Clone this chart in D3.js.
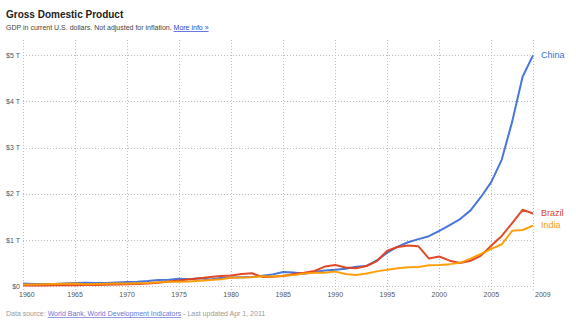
<!DOCTYPE html>
<html>
<head>
<meta charset="utf-8">
<script src="https://cdn.jsdelivr.net/npm/d3@7"></script>
<style>
  html, body { margin: 0; padding: 0; background: #fff; }
  svg { display: block; font-family: "Liberation Sans", Arial, sans-serif; }
</style>
</head>
<body>
<svg id="chart" width="576" height="324"></svg>
<script>
// Years on the x axis
const years = d3.range(1960, 2010);

// GDP in current US$, billions
const chinaGdp = [59.7,50.1,47.2,50.7,59.7,70.4,76.7,72.9,70.8,79.7,
  92.6,99.8,113.7,138.5,144.2,163.4,153.9,174.9,149.5,178.3,
  189.4,194.1,203.2,228.5,257.4,307.0,297.6,270.4,309.5,344.0,
  356.9,379.5,422.7,440.5,559.2,728.0,856.1,952.7,1019.5,1083.3,
  1198.5,1324.8,1453.8,1641.0,1931.6,2256.9,2740.0,3560.0,4530.0,4991.3];
const brazilGdp = [15.2,15.2,19.9,23.0,21.2,21.8,27.1,30.6,33.9,37.5,
  42.3,49.2,58.5,79.3,105.1,123.7,152.7,176.2,200.8,224.4,
  235.0,263.6,281.7,203.3,209.0,222.9,268.1,294.1,330.4,425.6,
  461.9,407.7,390.6,438.3,546.2,769.3,850.4,883.2,863.7,599.4,
  644.7,553.8,504.2,552.5,663.8,882.2,1088.9,1366.9,1653.5,1573.4];
const indiaGdp = [36.6,38.9,41.9,48.4,56.5,59.6,45.9,50.1,53.1,58.4,
  62.4,67.4,71.5,85.5,99.5,98.5,102.7,121.5,137.3,153.0,
  183.8,190.9,198.0,215.3,209.3,229.4,245.7,275.3,292.9,292.1,
  317.5,267.5,244.0,275.7,322.5,355.6,388.3,410.9,415.7,452.7,
  462.1,479.2,507.2,599.5,699.7,809.0,908.5,1200.0,1217.5,1310.2];

const seriesNames = ["China", "Brazil", "India"];
const seriesColors = ["#3f6fd8", "#e0401c", "#ff9a00"];
const seriesValues = [chinaGdp, brazilGdp, indiaGdp];

// Axis ticks
const xTicks = [1960, 1965, 1970, 1975, 1980, 1985, 1990, 1995, 2000, 2005, 2009];
const yTicks = [0, 1000, 2000, 3000, 4000, 5000];
const yTickLabels = ["$0", "$1 T", "$2 T", "$3 T", "$4 T", "$5 T"];

const svg = d3.select("#chart");
const left = 23, right = 533, bottom = 286.3, topY = 40;

const x = d3.scaleLinear().domain([1960, 2009]).range([left, right]);
const y = d3.scaleLinear().domain([0, 5000]).range([bottom, 55]);

const grid = svg.append("g")
  .attr("stroke", "#bdbdbd")
  .attr("stroke-width", 1)
  .attr("stroke-dasharray", "1,2");

// vertical grid
grid.selectAll("line.v").data(xTicks).join("line")
  .attr("class", "v")
  .attr("x1", d => Math.round(x(d)) + 0.5).attr("x2", d => Math.round(x(d)) + 0.5)
  .attr("y1", topY).attr("y2", bottom + 4);

// horizontal grid
grid.selectAll("line.h").data(yTicks).join("line")
  .attr("class", "h")
  .attr("x1", left).attr("x2", right)
  .attr("y1", d => Math.round(y(d)) + 0.5).attr("y2", d => Math.round(y(d)) + 0.5);

// y labels
svg.append("g").selectAll("text").data(yTicks).join("text")
  .attr("x", 20).attr("y", d => y(d) + 2.5)
  .attr("text-anchor", "end")
  .attr("font-size", 7).attr("fill", "#555")
  .text((d, i) => yTickLabels[i]);

// x labels
svg.append("g").selectAll("text").data(xTicks).join("text")
  .attr("x", d => d === 1960 ? x(d) - 4 : (d === 2009 ? x(d) + 2 : x(d)))
  .attr("y", 297)
  .attr("text-anchor", d => (d === 1960 || d === 2009) ? "start" : "middle")
  .attr("font-size", 7).attr("fill", "#555")
  .text(d => d);

// series lines
const line = d3.line().x((d, i) => x(years[i])).y(d => y(d));
seriesValues.forEach((vals, k) => {
  svg.append("path")
    .datum(vals)
    .attr("fill", "none")
    .attr("stroke", seriesColors[k])
    .attr("stroke-width", 2)
    .attr("stroke-linejoin", "round")
    .attr("opacity", 0.95)
    .attr("d", line);
});

// series labels at line ends
const endLabelY = [55, 213, 225];
seriesNames.forEach((name, k) => {
  svg.append("text")
    .attr("x", 541).attr("y", endLabelY[k] + 3)
    .attr("font-size", 9).attr("fill", seriesColors[k])
    .text(name);
});

// title and subtitle
svg.append("text").attr("x", 6).attr("y", 18)
  .attr("font-size", 10).attr("font-weight", "bold").attr("fill", "#222")
  .text("Gross Domestic Product");

const sub = svg.append("text").attr("x", 6).attr("y", 30)
  .attr("font-size", 7).attr("fill", "#444");
sub.append("tspan").text("GDP in current U.S. dollars. Not adjusted for inflation. ");
sub.append("tspan").attr("fill", "#2a3fd8").attr("text-decoration", "underline").text("More info »");

// footer
const foot = svg.append("text").attr("x", 6).attr("y", 316)
  .attr("font-size", 7).attr("fill", "#999");
foot.append("tspan").text("Data source: ");
foot.append("tspan").attr("fill", "#6a78d8").attr("text-decoration", "underline")
  .text("World Bank, World Development Indicators");
foot.append("tspan").text(" - Last updated Apr 1, 2011");
</script>
</body>
</html>
